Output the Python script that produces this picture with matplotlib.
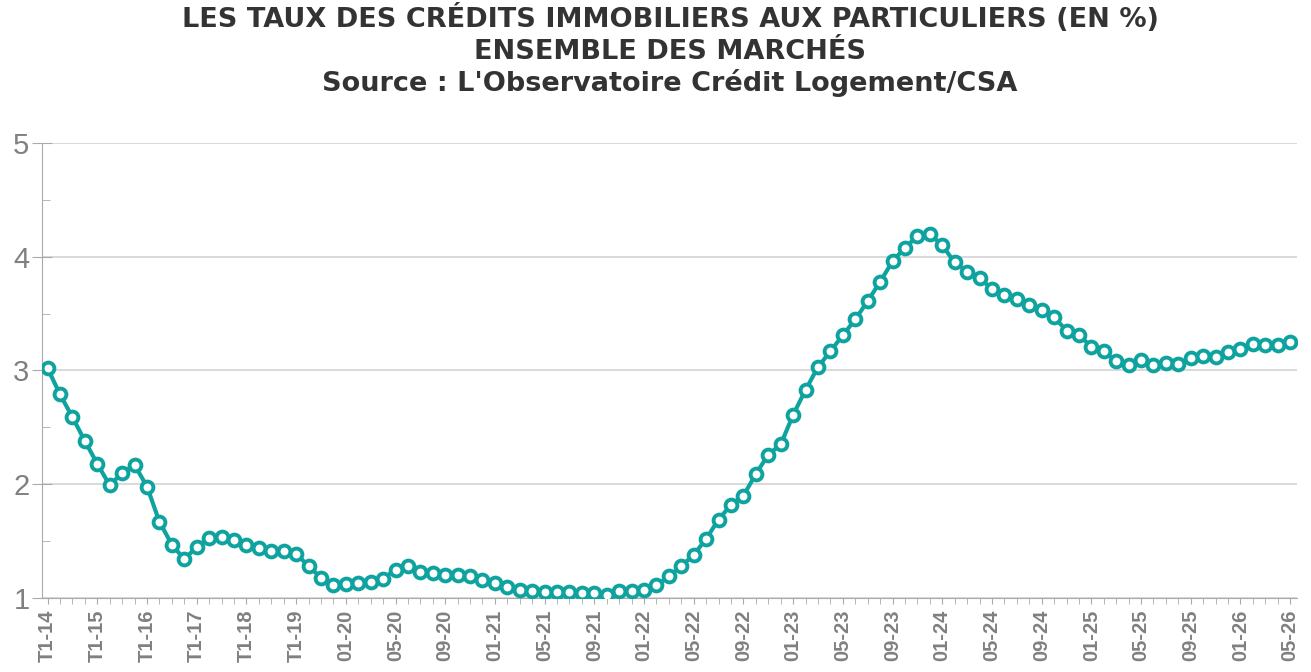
import matplotlib
matplotlib.use("Agg")
import matplotlib.pyplot as plt
from matplotlib.ticker import MultipleLocator

# quarterly points 2014-2019, then monthly from 01-2020 to 05-2026
quarters = [f"T{q}-{y:02d}" for y in range(14, 20) for q in range(1, 5)]
months = [f"{m:02d}-{y:02d}" for y in range(20, 27) for m in range(1, 13)][:77]
labels = quarters + months

taux = [
    3.02, 2.79, 2.59, 2.38, 2.18, 1.99, 2.10, 2.17, 1.98, 1.67, 1.47, 1.34,
    1.45, 1.53, 1.54, 1.51, 1.47, 1.44, 1.41, 1.41, 1.39, 1.28, 1.18, 1.11,
    1.12, 1.13, 1.14, 1.17, 1.25, 1.28, 1.23, 1.22, 1.20, 1.20, 1.19, 1.16,
    1.13, 1.10, 1.07, 1.06, 1.05, 1.05, 1.05, 1.04, 1.04, 1.03, 1.06, 1.06,
    1.07, 1.11, 1.19, 1.28, 1.38, 1.52, 1.69, 1.82, 1.90, 2.09, 2.26, 2.35,
    2.61, 2.83, 3.03, 3.17, 3.31, 3.45, 3.61, 3.78, 3.96, 4.08, 4.18, 4.20,
    4.10, 3.95, 3.87, 3.81, 3.72, 3.66, 3.63, 3.58, 3.53, 3.47, 3.35, 3.31,
    3.21, 3.17, 3.08, 3.05, 3.09, 3.05, 3.07, 3.06, 3.11, 3.13, 3.12, 3.16,
    3.19, 3.23, 3.22, 3.22, 3.25,
]

title_lines = [
    "LES TAUX DES CRÉDITS IMMOBILIERS AUX PARTICULIERS (EN %)",
    "ENSEMBLE DES MARCHÉS",
    "Source : L'Observatoire Crédit Logement/CSA",
]

teal = "#0fa39f"
gray = "#808080"

fig = plt.figure(figsize=(13.11, 6.72), dpi=100)
ax = fig.add_axes([42 / 1311, 1 - 598 / 672, (1297 - 42) / 1311, (598 - 143) / 672])

x = list(range(len(taux)))
ax.plot(x, taux, color=teal, lw=3, marker="o", ms=8.5, mfc="white",
        mec=teal, mew=2.8, zorder=3)

ax.set_ylim(1, 5)
ax.set_xlim(-0.45, len(taux) - 0.45)
ax.yaxis.set_major_locator(MultipleLocator(1))
ax.yaxis.set_minor_locator(MultipleLocator(0.5))
ax.grid(axis="y", which="major", color="#cfcfcf", lw=1.1, zorder=0)

ax.set_xticks(x, minor=True)
ax.set_xticks(x[::4])
ax.set_xticklabels(labels[::4], rotation=90, fontsize=14.5, fontweight="bold",
                   color=gray, family="Liberation Sans")
ax.tick_params(axis="x", which="both", length=4.5, color="#aaaaaa", pad=4)
ax.tick_params(axis="y", which="major", length=14, color="#aaaaaa",
               direction="inout", labelsize=21, labelcolor=gray, pad=2)
ax.tick_params(axis="y", which="minor", length=6, color="#aaaaaa", direction="in")
for t in ax.get_yticklabels():
    t.set_family("Liberation Sans")

for s in ["top", "right"]:
    ax.spines[s].set_visible(False)
ax.spines["left"].set_color("#aaaaaa")
ax.spines["bottom"].set_color("#aaaaaa")

for line, base in zip(title_lines, [27, 59, 91]):
    fig.text(670 / 1311, 1 - base / 672, line, ha="center", va="baseline",
             fontsize=19.5, fontweight="bold", color="#333333",
             family="DejaVu Sans")

fig.savefig("out.png", dpi=100)
